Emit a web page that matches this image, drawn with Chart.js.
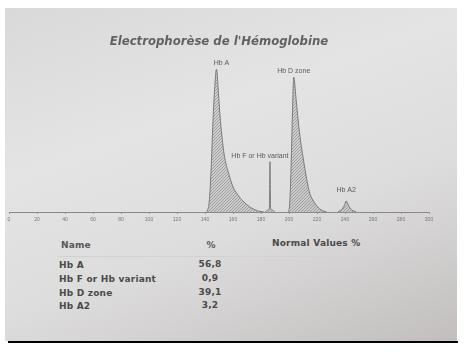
<!DOCTYPE html>
<html lang="fr">

<head>
  <meta charset="UTF-8" />
  <title>Electrophorèse de l'Hémoglobine</title>
  <style>
    body { margin: 0; background: #fff; width: 465px; height: 352px; overflow: hidden; }
    #photo {
      position: absolute; left: 5px; top: 8px; width: 452px; height: 333px;
      background: linear-gradient(160deg, #d9d9d9 0%, #e4e4e4 35%, #dedddd 62%, #c2bebe 100%);
    }
    #bottomLine { position: absolute; left: 8px; top: 341px; width: 450px; height: 2px; background: #000; }
    #chartBox { position: absolute; left: 0; top: 0; width: 465px; height: 228px; }
    .t { position: absolute; font-family: "DejaVu Sans", sans-serif; font-weight: bold; font-size: 9px; color: #4a4a4a; white-space: nowrap; letter-spacing: 0.2px; }
    .c { transform: translateX(-50%); }
    #rule { position: absolute; left: 58px; top: 256px; width: 320px; height: 1px; background: #d2d2d2; }
  </style>
</head>

<body>
  <div id="photo"></div>
  <div id="bottomLine"></div>
  <div id="chartBox"><canvas id="myChart" width="465" height="228"></canvas></div>
  <div id="table"></div>
  <div id="rule"></div>

  <script src="https://cdn.jsdelivr.net/npm/chart.js@4.4.1/dist/chart.umd.min.js"></script>
  <script>
    // fractions, in the order of the report
    const names = ["Hb A", "Hb F or Hb variant", "Hb D zone", "Hb A2"];
    const percents = ["56,8", "0,9", "39,1", "3,2"];
    const xTicks = [0, 20, 40, 60, 80, 100, 120, 140, 160, 180, 200, 220, 240, 260, 280, 300];

    // curve (position, height)
    const hbAX = [141.4, 143, 144.3, 145.7, 147, 148.2, 149.5, 151, 153.6, 157, 160, 164, 167, 172, 178, 182];
    const hbAY = [0, 10, 40, 90, 125, 142, 120, 91, 58, 38, 25, 16, 11, 5, 1, 0];
    const hbFX = [183, 185, 186, 186.4, 186.8, 188, 190];
    const hbFY = [0, 2, 4, 50, 4, 2, 0];
    const hbDX = [199.5, 200.5, 201.5, 202.5, 203.4, 205, 207.4, 210.9, 214.5, 217, 219.3, 223, 227];
    const hbDY = [0, 8, 45, 100, 134, 113, 80, 47, 20, 12, 7, 2, 0];
    const hbA2X = [235, 238, 240, 240.8, 242, 244, 248];
    const hbA2Y = [0, 3, 8, 11, 8, 3, 0];

    const curves = [[hbAX, hbAY], [hbFX, hbFY], [hbDX, hbDY], [hbA2X, hbA2Y]];

    // table under the trace
    const tbl = document.getElementById("table");
    let html = '<div class="t" style="left:61px;top:240px;color:#555">Name</div>' +
      '<div class="t c" style="left:211px;top:240px;color:#555">%</div>' +
      '<div class="t" style="left:272px;top:238px">Normal Values %</div>';
    const rowTops = [260, 274, 288, 301];
    names.forEach((n, i) => {
      html += `<div class="t" style="left:59px;top:${rowTops[i]}px">${n}</div>`;
      html += `<div class="t c" style="left:210px;top:${rowTops[i] - 1}px">${percents[i]}</div>`;
    });
    tbl.innerHTML = html;

    // hatched fill
    const pc = document.createElement("canvas");
    pc.width = 3; pc.height = 3;
    const px = pc.getContext("2d");
    px.fillStyle = "rgba(150,150,150,0.25)";
    px.fillRect(0, 0, 3, 3);
    px.strokeStyle = "#8f8f8f";
    px.lineWidth = 0.8;
    px.beginPath();
    px.moveTo(0, 3); px.lineTo(3, 0);
    px.moveTo(-1, 1); px.lineTo(1, -1);
    px.moveTo(2, 4); px.lineTo(4, 2);
    px.stroke();
    const hatch = px.createPattern(pc, "repeat");

    const labelOffsets = [5, -10, 0, 0];
    const labelLift = [6, 5, 6, 10];

    const peakLabels = {
      id: "peakLabels",
      afterDatasetsDraw(chart) {
        const { ctx, scales } = chart;
        ctx.save();
        ctx.font = '7px "Liberation Sans", sans-serif';
        ctx.fillStyle = "#5a5a5a";
        ctx.textAlign = "center";
        ctx.textBaseline = "bottom";
        curves.forEach(([xs, ys], i) => {
          const k = ys.indexOf(Math.max(...ys));
          const x = scales.x.getPixelForValue(xs[k]) + labelOffsets[i];
          const y = scales.y.getPixelForValue(ys[k]) - labelLift[i] + 3;
          ctx.fillText(names[i], x, y);
        });
        ctx.restore();
      }
    };

    new Chart(document.getElementById("myChart"), {
      type: "line",
      data: {
        datasets: curves.map(([xs, ys], i) => ({
          label: names[i],
          data: xs.map((x, j) => ({ x: x, y: ys[j] })),
          borderColor: "#7a7a7a",
          borderWidth: 1,
          backgroundColor: hatch,
          fill: "origin",
          pointRadius: 0,
          cubicInterpolationMode: "monotone"
        }))
      },
      options: {
        responsive: false,
        animation: false,
        layout: { padding: { left: 9, right: 36, bottom: 2 } },
        plugins: {
          legend: { display: false },
          tooltip: { enabled: false },
          title: {
            display: true,
            text: "Electrophorèse de l'Hémoglobine",
            color: "#626262",
            font: { family: "DejaVu Sans", size: 11.7, style: "italic", weight: "bold" },
            padding: { top: 35, bottom: 10 }
          }
        },
        scales: {
          x: {
            type: "linear",
            min: 0,
            max: 300,
            afterBuildTicks: (axis) => { axis.ticks = xTicks.map(v => ({ value: v })); },
            grid: { drawOnChartArea: false, tickLength: 2, color: "#999" },
            border: { color: "#8a8a8a" },
            ticks: { color: "#777", font: { size: 5 }, padding: 3, maxRotation: 0, autoSkip: false }
          },
          y: { display: false, min: 0, max: 152 }
        }
      },
      plugins: [peakLabels]
    });
  </script>
</body>

</html>
